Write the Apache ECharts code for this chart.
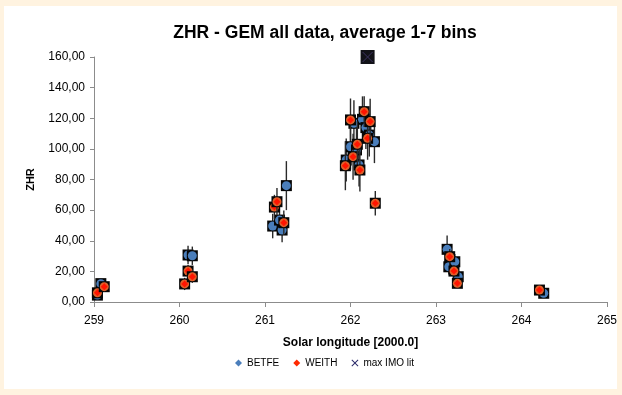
<!DOCTYPE html>
<html><head><meta charset="utf-8">
<script src="https://cdn.jsdelivr.net/npm/echarts@6/dist/echarts.min.js"></script>
<style>html,body{margin:0;padding:0;background:#FFF3E0;}#c{width:622px;height:395px;}</style>
</head><body><div id="c"></div>
<script>
// Solar longitude (deg, J2000.0) / ZHR / error half-length
const betfeL   = [259.04,259.08,260.10,260.15,261.09,261.17,261.20,261.25,261.95,262.00,262.04,262.07,262.10,262.14,262.18,262.22,262.28,263.13,263.15,263.22,263.26,264.26];
const betfeZHR = [4.5,12,30.7,30.2,49.6,53.5,47,76,92.7,101.4,116.7,99.3,89.5,119.3,113.9,109,104.7,34.4,23,26.3,16.5,5.7];
const betfeErr = [3,3,6,6,8,9,8,16,14,15,15,15,14,15,14,14,14,9,5,5,4,2];

const weithL   = [259.04,259.12,260.06,260.10,260.15,261.11,261.14,261.22,261.94,262.00,262.03,262.08,262.11,262.16,262.20,262.23,262.29,263.16,263.21,263.25,264.21];
const weithZHR = [6,10,11.8,20.2,16.5,62,65.5,51.8,89,118.9,94.9,103,86.2,124.3,106.9,117.8,64.5,29.6,20.2,12.2,7.8];
const weithErr = [3,3,4,4,4,8,9,8,16,14,15,15,14,10,14,15,8,5,4,3,2];

const imoL   = [262.2];
const imoZHR = [160];

const xTicks = {min:259, max:265, interval:1};
const yTicks = {min:0, max:160, interval:20};

const FONT = "'Liberation Sans', Arial, sans-serif";

function makeData(L, V, E){ return L.map((x,i)=>[x, V[i], E ? E[i] : 0]); }

function pointRenderer(kind){
  return function(params, api){
    const x = api.value(0), y = api.value(1), e = api.value(2);
    const c = api.coord([x, y]);
    const children = [];
    if (e > 0){
      const t = api.coord([x, y + e]), b = api.coord([x, y - e]);
      children.push({type:'line', shape:{x1:c[0], y1:t[1], x2:c[0], y2:b[1]}, style:{stroke:'#2a2a2a', lineWidth:1.4}});
    }
    if (kind === 'imo'){
      const s = 7;
      children.push({type:'rect', shape:{x:c[0]-s, y:c[1]-s, width:2*s, height:2*s}, style:{fill:'#121218'}});
      children.push({type:'line', shape:{x1:c[0]-s+2, y1:c[1]-s+2, x2:c[0]+s-2, y2:c[1]+s-2}, style:{stroke:'#3c3260', lineWidth:1}});
      children.push({type:'line', shape:{x1:c[0]+s-2, y1:c[1]-s+2, x2:c[0]-s+2, y2:c[1]+s-2}, style:{stroke:'#3c3260', lineWidth:1}});
    } else {
      const s = 5.5;
      children.push({type:'rect', shape:{x:c[0]-s, y:c[1]-s, width:2*s, height:2*s}, style:{fill:'#050505'}});
      if (kind === 'betfe'){
        children.push({type:'circle', shape:{cx:c[0], cy:c[1], r:4.5}, style:{fill:'#4A7EBB'}});
      } else {
        children.push({type:'circle', shape:{cx:c[0], cy:c[1], r:4.5}, style:{fill:'#E0602A'}});
        children.push({type:'polygon', shape:{points:[[c[0],c[1]-3.5],[c[0]+3.5,c[1]],[c[0],c[1]+3.5],[c[0]-3.5,c[1]]]}, style:{fill:'#FF1500'}});
      }
    }
    return {type:'group', children};
  };
}

const chart = echarts.init(document.getElementById('c'), null, {renderer:'canvas'});
chart.setOption({
  backgroundColor:'#FFF3E0',
  animation:false,
  graphic:[{type:'rect', z:-10, shape:{x:4, y:6, width:613, height:383}, style:{fill:'#FFFFFF'}}],
  title:{text:'ZHR - GEM all data, average 1-7 bins', left:320, textAlign:'center', top:19,
    textStyle:{fontFamily:FONT, fontWeight:'bold', fontSize:17.5, color:'#000'}},
  grid:{left:94, right:15, top:57, bottom:93},
  legend:{left:230, top:353, itemWidth:7, itemHeight:7, itemGap:14,
    textStyle:{fontFamily:FONT, fontSize:10, color:'#000'},
    data:[{name:'BETFE', icon:'diamond'},{name:'WEITH', icon:'diamond'},
      {name:'max IMO lit', icon:'path://M0,1L1,0L5,4L9,0L10,1L6,5L10,9L9,10L5,6L1,10L0,9L4,5Z'}]},
  xAxis:{type:'value', min:xTicks.min, max:xTicks.max, interval:xTicks.interval,
    name:'Solar longitude [2000.0]', nameLocation:'middle', nameGap:35,
    nameTextStyle:{fontFamily:FONT, fontWeight:'bold', fontSize:12, color:'#000'},
    axisLine:{lineStyle:{color:'#8c8c8c', width:1}},
    axisTick:{length:5, lineStyle:{color:'#8c8c8c'}},
    axisLabel:{fontFamily:FONT, fontSize:12, color:'#000', margin:13},
    splitLine:{show:false}},
  yAxis:{type:'value', min:yTicks.min, max:yTicks.max, interval:yTicks.interval,
    name:'ZHR', nameLocation:'middle', nameGap:58,
    nameTextStyle:{fontFamily:FONT, fontWeight:'bold', fontSize:11, color:'#000'},
    axisLine:{show:true, lineStyle:{color:'#8c8c8c', width:1}},
    axisTick:{show:true, length:4, lineStyle:{color:'#8c8c8c'}},
    axisLabel:{fontFamily:FONT, fontSize:12, color:'#000', margin:9,
      formatter:v=>v.toFixed(2).replace('.', ',')},
    splitLine:{show:false}},
  series:[
    {name:'BETFE', type:'custom', renderItem:pointRenderer('betfe'), itemStyle:{color:'#4A7EBB'},
      encode:{x:0, y:1}, data:makeData(betfeL, betfeZHR, betfeErr), z:3},
    {name:'WEITH', type:'custom', renderItem:pointRenderer('weith'), itemStyle:{color:'#FF2A00'},
      encode:{x:0, y:1}, data:makeData(weithL, weithZHR, weithErr), z:4},
    {name:'max IMO lit', type:'custom', renderItem:pointRenderer('imo'), itemStyle:{color:'#2B2B6A'},
      encode:{x:0, y:1}, data:makeData(imoL, imoZHR, null), z:5}
  ]
});
</script></body></html>
